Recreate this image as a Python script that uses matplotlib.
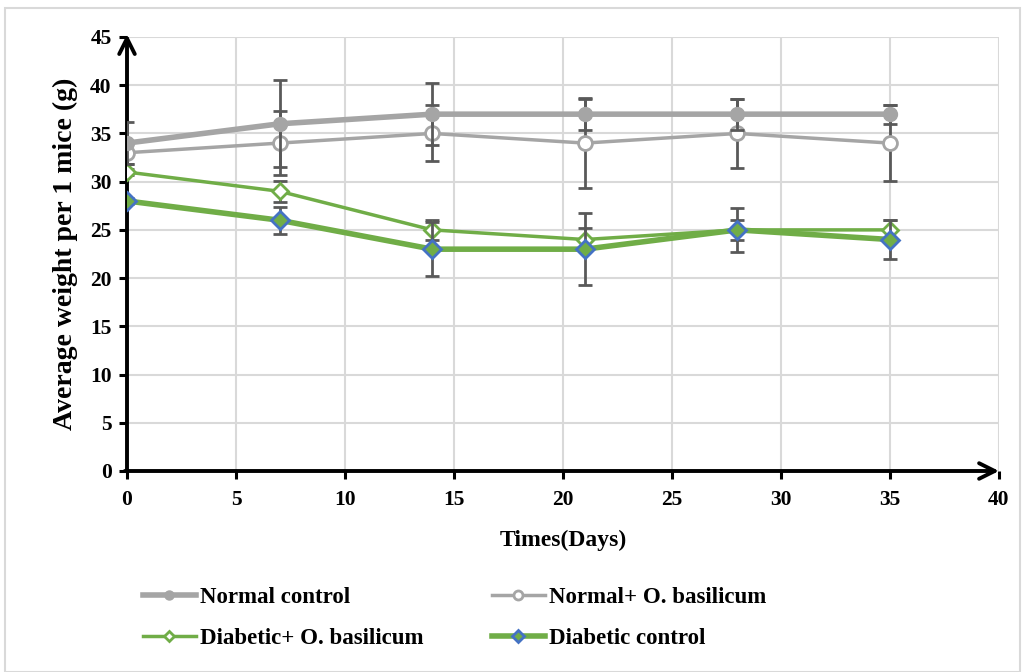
import matplotlib.pyplot as plt
from matplotlib.patches import Rectangle

# data
days = [0, 7, 14, 21, 28, 35]
normal_control = [34, 36, 37, 37, 37, 37]
normal_control_err = [2.2, 4.5, 3.2, 1.6, 1.6, 1.0]
normal_basil = [33, 34, 35, 34, 35, 34]
normal_basil_err = [1.2, 3.3, 2.9, 4.7, 3.6, 3.9]
diab_basil = [31, 29, 25, 24, 25, 25]
diab_basil_err = [0.3, 1.1, 1.0, 1.2, 1.0, 1.0]
diab_control = [28, 26, 23, 23, 25, 24]
diab_control_err = [0.3, 1.4, 2.8, 3.7, 2.3, 2.0]

plt.rcParams['font.family'] = ['Liberation Serif', 'DejaVu Serif']
plt.rcParams['font.weight'] = 'bold'

fig = plt.figure(figsize=(10.26, 6.72), dpi=100)
ax = fig.add_axes([127/1026, 1-471/672, (999-127)/1026, (471-37)/672])

# chart border
fig.patches.append(Rectangle((5/1026, 0.0), 1015/1026, 1-8/672, transform=fig.transFigure,
                             fill=False, edgecolor='#d9d9d9', linewidth=1.5))

gray = '#a5a5a5'
green = '#70ad47'
blue = '#4472c4'
errc = '#595959'

eb = dict(ecolor=errc, elinewidth=2, capsize=5, capthick=2)

l1 = ax.errorbar(days, normal_control, yerr=normal_control_err, color=gray, lw=4,
                 marker='o', ms=10, mfc=gray, mec=gray, zorder=4, **eb)
l2 = ax.errorbar(days, normal_basil, yerr=normal_basil_err, color=gray, lw=2.5,
                 marker='o', ms=10, mfc='white', mec=gray, mew=2, zorder=3, **eb)
l3 = ax.errorbar(days, diab_basil, yerr=diab_basil_err, color=green, lw=2.5,
                 marker='D', ms=8, mfc='white', mec=green, mew=2, zorder=3, **eb)
l4 = ax.errorbar(days, diab_control, yerr=diab_control_err, color=green, lw=4,
                 marker='D', ms=9, mfc=green, mec=blue, mew=2, zorder=4, **eb)

ax.set_xlim(0, 40)
ax.set_ylim(0, 45)
ax.set_xticks(range(0, 41, 5))
ax.set_yticks(range(0, 46, 5))
ax.grid(True, color='#d9d9d9', linewidth=1.5)
ax.set_axisbelow(True)

for s in ax.spines.values():
    s.set_visible(False)

# axis lines with open arrow heads
arr = dict(arrowstyle='->', lw=2.8, color='black', mutation_scale=28, shrinkA=0, shrinkB=0)
ax.annotate('', xy=(0, 45.3), xytext=(0, 0), xycoords='data', arrowprops=arr, annotation_clip=False)
ax.annotate('', xy=(40, 0), xytext=(-0.1, 0), xycoords='data', arrowprops=arr, annotation_clip=False)

ax.tick_params(axis='both', direction='out', length=6, width=2.2, labelsize=15.5, color='black')
ax.tick_params(axis='x', pad=8)
ax.tick_params(axis='y', pad=5)
for lab in ax.get_xticklabels() + ax.get_yticklabels():
    lab.set_fontweight('bold')

ax.set_xlabel('Times(Days)', fontsize=17, fontweight='bold', labelpad=14)
ax.set_ylabel('Average weight per 1 mice (g)', fontsize=20, fontweight='bold', labelpad=9)

# legend: two columns placed separately
lp = dict(frameon=False, prop=dict(size=16.5, weight='bold'), handlelength=2.3,
          handletextpad=0.2, labelspacing=0.85, markerscale=0.65, borderaxespad=0, borderpad=0)
fig.legend([l1[0], l3[0]], ['Normal control', 'Diabetic+ O. basilicum'], loc='upper left',
           bbox_to_anchor=(143/1026, 1-587/672), **lp)
fig.legend([l2[0], l4[0]], ['Normal+ O. basilicum', 'Diabetic control'], loc='upper left',
           bbox_to_anchor=(492/1026, 1-587/672), **lp)

fig.savefig('out.png', dpi=100)
